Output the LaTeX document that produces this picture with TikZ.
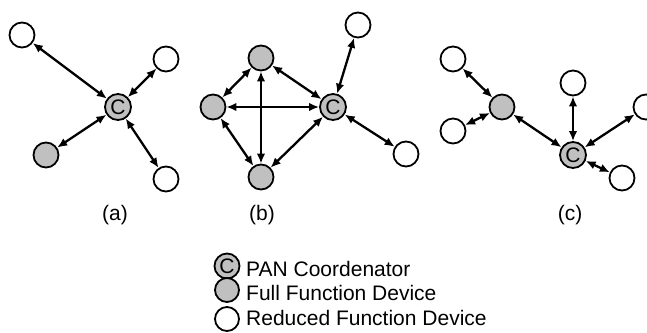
\documentclass[tikz,border=0pt]{standalone}
\usepackage{fontspec}
\setmainfont{Liberation Sans}
\usetikzlibrary{arrows.meta}
\definecolor{ffdgray}{RGB}{192,192,192}
\tikzset{
  dev/.style={circle, draw=black, line width=1.8pt, minimum size=25pt, inner sep=0pt},
  rfd/.style={dev, fill=white},
  ffd/.style={dev, fill=ffdgray},
  coord/.style={dev, fill=ffdgray, font=\fontsize{21}{21}\selectfont, minimum size=26pt},
  link/.style={line width=2.3pt, {Latex[length=10pt,width=8.5pt]}-{Latex[length=10pt,width=8.5pt]}},
  caption/.style={font=\fontsize{21}{25}\selectfont, inner sep=0pt},
  legtext/.style={caption, anchor=base west}
}
\begin{document}
\begin{tikzpicture}[x=1pt, y=-1pt]
\useasboundingbox (0,0) rectangle (647,332);
\clip (0,0) rectangle (647,332);

% (a) star topology
\node[coord] (aC) at (118,107) {C};
\node[rfd] (a1) at (22,35) {};
\node[rfd] (a2) at (166,59) {};
\node[ffd] (a3) at (46,155) {};
\node[rfd] (a4) at (166,179) {};
\foreach \n in {a1,a2,a3,a4} \draw[link] (aC) -- (\n);
\node[caption, anchor=base] (la) at (115,220) {(a)};

% (b) mesh topology
\node[coord] (bC) at (333,107) {C};
\node[ffd] (bT) at (261,58) {};
\node[ffd] (bL) at (213,107) {};
\node[ffd] (bB) at (261,177) {};
\node[rfd] (b1) at (358,25) {};
\node[rfd] (b2) at (406,154) {};
\draw[link] (bL) -- (bC);
\draw[link] (bT) -- (bB);
\draw[link] (bT) -- (bL);
\draw[link] (bL) -- (bB);
\draw[link] (bT) -- (bC);
\draw[link] (bB) -- (bC);
\draw[link] (bC) -- (b1);
\draw[link] (bC) -- (b2);
\node[caption, anchor=base] (lb) at (262,220) {(b)};

% (c) cluster tree topology
\node[coord] (cC) at (573,155) {C};
\node[ffd] (cF) at (502,107) {};
\node[rfd] (c1) at (453,59) {};
\node[rfd] (c2) at (453,131) {};
\node[rfd] (c3) at (573,83) {};
\node[rfd] (c4) at (646,107) {};
\node[rfd] (c5) at (622,178) {};
\draw[link] (cF) -- (c1);
\draw[link] (cF) -- (c2);
\draw[link] (cF) -- (cC);
\draw[link] (cC) -- (c3);
\draw[link] (cC) -- (c4);
\draw[link] (cC) -- (c5);
\node[caption, anchor=base] (lc) at (570,220) {(c)};

% legend
\node[coord, minimum size=25pt] (kC) at (227,266) {C};
\node[ffd, minimum size=24pt] (kF) at (227,290) {};
\node[rfd, minimum size=24pt] (kR) at (227,319) {};
\node[legtext] (tC) at (246,276) {PAN Coordenator};
\node[legtext] (tF) at (246,300) {Full Function Device};
\node[legtext] (tR) at (246,325) {Reduced Function Device};
\end{tikzpicture}
\end{document}
